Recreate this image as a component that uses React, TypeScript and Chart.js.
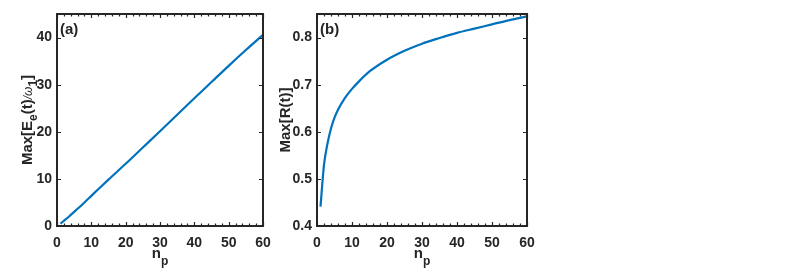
import React, { useEffect, useRef } from "react";
import { Chart, registerables } from "chart.js";

Chart.register(...registerables);

// ---- data ----
const npValues = [1, 2, 3, 4, 5, 6, 8, 10, 12, 15, 20, 25, 30, 35, 40, 45, 50, 55, 60];
const maxEnergy = [0.5, 1.1, 1.7, 2.35, 3.0, 3.65, 5.0, 6.4, 7.8, 9.85, 13.2, 16.65, 20.1, 23.6, 27.1, 30.55, 34.0, 37.35, 40.6];
const maxR = [0.441, 0.53, 0.575, 0.607, 0.63, 0.647, 0.672, 0.691, 0.707, 0.728, 0.753, 0.772, 0.787, 0.799, 0.81, 0.819, 0.828, 0.837, 0.845];
const xTickValues = [0, 10, 20, 30, 40, 50, 60];
const yTicksA = [0, 10, 20, 30, 40];
const yTicksB = [0.4, 0.5, 0.6, 0.7, 0.8];
const panelLetters = ["(a)", "(b)"];

const W = 785;
const H = 272;
const FONT = '"Liberation Sans", Arial, Helvetica, sans-serif';
const INK = "#262626";
const BLUE = "#0072BD";

type Part = { t: string; sub?: boolean; small?: boolean };

function drawRich(ctx: CanvasRenderingContext2D, parts: Part[], cx: number, baseline: number, subShift: number) {
  const fontFor = (p: Part) =>
    p.small ? `italic 12px ${FONT}` : p.sub ? `bold 12px ${FONT}` : `bold 15px ${FONT}`;
  let total = 0;
  const widths = parts.map((p) => {
    ctx.font = fontFor(p);
    const w = ctx.measureText(p.t).width;
    total += w;
    return w;
  });
  let x = cx - total / 2;
  ctx.textAlign = "left";
  ctx.textBaseline = "alphabetic";
  parts.forEach((p, i) => {
    ctx.font = fontFor(p);
    ctx.fillText(p.t, x, baseline + (p.sub ? subShift : 0));
    x += widths[i];
  });
}

function makePlugin(letter: string, yTitle: Part[], yTitleX: number, xMinorStep: number) {
  return {
    id: "matlabFrame" + letter,
    afterDatasetsDraw(chart: any) {
      const { ctx, chartArea } = chart;
      const { left, right, top, bottom } = chartArea;
      const xs = chart.scales.x;
      const ys = chart.scales.y;
      ctx.save();
      ctx.strokeStyle = INK;
      ctx.fillStyle = INK;
      // ticks inside
      ctx.lineWidth = 1.2;
      ctx.beginPath();
      for (let v = xs.min; v <= xs.max + 1e-9; v += xMinorStep) {
        const px = Math.round(xs.getPixelForValue(v)) + 0.5;
        const major = Math.abs(v / 10 - Math.round(v / 10)) < 1e-6;
        const len = major ? 4 : 2.5;
        ctx.moveTo(px, bottom);
        ctx.lineTo(px, bottom - len);
        ctx.moveTo(px, top);
        ctx.lineTo(px, top + len);
      }
      ys.ticks.forEach((t: any) => {
        const py = Math.round(ys.getPixelForValue(t.value)) + 0.5;
        ctx.moveTo(left, py);
        ctx.lineTo(left + 4, py);
        ctx.moveTo(right, py);
        ctx.lineTo(right - 4, py);
      });
      ctx.stroke();
      // box
      ctx.lineWidth = 2;
      ctx.strokeRect(left, top, right - left, bottom - top);
      // panel letter
      ctx.font = `bold 15px ${FONT}`;
      ctx.textAlign = "left";
      ctx.textBaseline = "alphabetic";
      ctx.fillText(letter, left + 3, top + 20);
      // x title
      drawRich(ctx, [{ t: "n" }, { t: "p", sub: true }], (left + right) / 2, 258, 7);
      // y title rotated
      ctx.translate(yTitleX, (top + bottom) / 2);
      ctx.rotate(-Math.PI / 2);
      drawRich(ctx, yTitle, 0, 5, 5);
      ctx.restore();
    },
  };
}

function buildConfig(
  values: number[],
  yMin: number,
  yMax: number,
  yTicks: number[],
  padLeft: number,
  padRight: number,
  decimals: number,
  plugin: any
): any {
  return {
    type: "line",
    data: {
      datasets: [
        {
          data: npValues.map((x, i) => ({ x, y: values[i] })),
          borderColor: BLUE,
          borderWidth: 2.2,
          pointRadius: 0,
          cubicInterpolationMode: "monotone",
          fill: false,
        },
      ],
    },
    options: {
      responsive: false,
      animation: false,
      devicePixelRatio: 1,
      layout: { padding: { left: padLeft, right: padRight, top: 14, bottom: 0 } },
      plugins: { legend: { display: false }, tooltip: { enabled: false } },
      scales: {
        x: {
          type: "linear",
          min: 0,
          max: 60,
          grid: { display: false, drawTicks: false },
          border: { display: false },
          afterBuildTicks: (s: any) => {
            s.ticks = xTickValues.map((v) => ({ value: v }));
          },
          afterFit: (s: any) => {
            s.height = H - 226;
          },
          ticks: {
            autoSkip: false,
            maxRotation: 0,
            padding: 9,
            color: INK,
            font: { family: FONT, size: 14, weight: "bold" },
            callback: (v: number) => String(v),
          },
        },
        y: {
          type: "linear",
          min: yMin,
          max: yMax,
          grid: { display: false, drawTicks: false },
          border: { display: false },
          afterBuildTicks: (s: any) => {
            s.ticks = yTicks.map((v) => ({ value: v }));
          },
          afterFit: (s: any) => {
            s.width = 57;
          },
          ticks: {
            padding: 5,
            color: INK,
            font: { family: FONT, size: 14, weight: "bold" },
            callback: (v: number) => Number(v).toFixed(decimals),
          },
        },
      },
    },
    plugins: [plugin],
  };
}

export default function App() {
  const refA = useRef<HTMLCanvasElement>(null);
  const refB = useRef<HTMLCanvasElement>(null);

  useEffect(() => {
    const pluginA = makePlugin(
      panelLetters[0],
      [
        { t: "Max[E" },
        { t: "e", sub: true },
        { t: "(t)" },
        { t: "/ω", small: true },
        { t: "1", sub: true },
        { t: "]" },
      ],
      27,
      2
    );
    const pluginB = makePlugin(panelLetters[1], [{ t: "Max[R(t)]" }], 285, 2);
    const a = new Chart(refA.current!, buildConfig(maxEnergy, 0, 45, yTicksA, 0, W - 263, 0, pluginA));
    const b = new Chart(refB.current!, buildConfig(maxR, 0.4, 0.85, yTicksB, 317 - 57, W - 527, 1, pluginB));
    return () => {
      a.destroy();
      b.destroy();
    };
  }, []);

  const style: React.CSSProperties = { position: "absolute", left: 0, top: 0, width: W, height: H };
  return (
    <div style={{ position: "absolute", left: 0, top: 0, width: W, height: H, background: "#fff" }}>
      <canvas ref={refA} width={W} height={H} style={style} />
      <canvas ref={refB} width={W} height={H} style={style} />
    </div>
  );
}
